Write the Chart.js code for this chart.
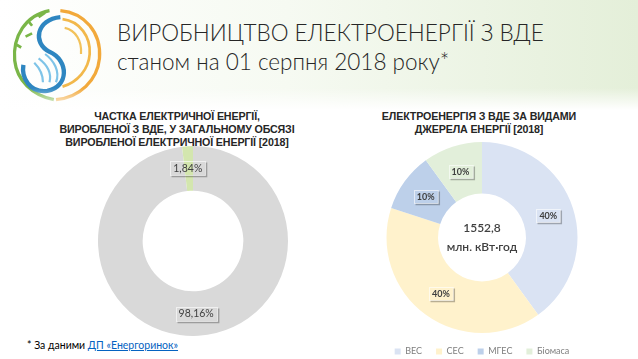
<!DOCTYPE html>
<html>
<head>
<meta charset="utf-8">
<script src="https://cdn.jsdelivr.net/npm/chart.js@4"></script>
<style>
  html, body { margin: 0; padding: 0; }
  body {
    width: 638px; height: 359px; position: relative; overflow: hidden;
    background: #fff; font-family: Lato, "Open Sans", sans-serif;
  }
  .header {
    position: absolute; left: 0; top: 0; width: 638px; height: 110px;
    background: linear-gradient(to right, #ffffff 0%, #f6faf2 45%, #e4efd9 100%);
  }
  .header::after {
    content: ''; position: absolute; left: 0; right: 0; bottom: 0; height: 22px;
    background: linear-gradient(to bottom, rgba(255,255,255,0), #fff);
  }
  .logo { position: absolute; left: 6px; top: 4px; }
  .title {
    position: absolute; left: 117px; top: 18px;
    font-size: 22.5px; line-height: 29px; color: #262626; font-weight: 300;
  }
  .ctitle {
    position: absolute; text-align: center; font-family: "Liberation Sans", Arial, sans-serif;
    font-weight: bold; font-size: 10.7px; line-height: 13px; color: #262626; letter-spacing: -0.15px;
  }
  canvas { position: absolute; }
  .note {
    position: absolute; left: 27px; top: 339px; font-size: 10.5px; color: #000;
  }
  .note a { color: #0563c1; text-decoration: underline; }
</style>
</head>
<body>
<div class="header">
  <svg class="logo" width="100" height="100" viewBox="0 0 92 92">
    <path d="M40 6 C 18 10, 6 30, 8 52 C 10 70, 24 84, 44 88" fill="none" stroke="#7ab648" stroke-width="3"/>
    <path d="M30 12 l6 -4 M24 20 l-4 -5 M18 30 l6 -3 M14 40 l-5 -3" stroke="#7ab648" stroke-width="2.5"/>
    <path d="M50 6 C 72 8, 88 26, 86 50 C 84 70, 68 86, 46 88" fill="none" stroke="#f2a93b" stroke-width="3"/>
    <path d="M52 14 C 68 16, 78 30, 77 46 C 76 60, 66 72, 52 76" fill="none" stroke="#f2b84b" stroke-width="2.5"/>
    <path d="M54 22 C 64 24, 70 34, 69 46" fill="none" stroke="#f2c25b" stroke-width="2"/>
    <path d="M50 12 C 28 14, 24 36, 40 44 C 58 52, 58 76, 38 80 C 22 82, 14 68, 16 56" fill="none" stroke="#2e86c1" stroke-width="4"/>
    <path d="M36 46 C 44 52, 50 62, 46 72 M30 50 C 38 56, 42 64, 40 72 M26 54 C 32 60, 34 66, 34 72" fill="none" stroke="#7fc4e8" stroke-width="2"/>
  </svg>
  <div class="title">ВИРОБНИЦТВО ЕЛЕКТРОЕНЕРГІЇ З ВДЕ<br>станом на 01 серпня 2018 року*</div>
</div>

<div class="ctitle" style="left:30px; top:110px; width:294px;">ЧАСТКА ЕЛЕКТРИЧНОЇ ЕНЕРГІЇ,<br>ВИРОБЛЕНОЇ З ВДЕ, У ЗАГАЛЬНОМУ ОБСЯЗІ<br>ВИРОБЛЕНОЇ ЕЛЕКТРИЧНОЇ ЕНЕРГІЇ [2018]</div>
<div class="ctitle" style="left:340px; top:110px; width:278px;">ЕЛЕКТРОЕНЕРГІЯ З ВДЕ ЗА ВИДАМИ<br>ДЖЕРЕЛА ЕНЕРГІЇ [2018]</div>

<canvas id="share" width="190" height="190" style="left:98px; top:146px;"></canvas>
<canvas id="types" width="260" height="224" style="left:352px; top:142px;"></canvas>

<div class="note">* За даними <a>ДП «Енергоринок»</a></div>

<script>
// Частка ВДЕ у загальному обсязі
const shareLabels = ['Інші джерела', 'ВДЕ'];
const shareValues = [98.16, 1.84];
const shareText = ['98,16%', '1,84%'];
const shareColors = ['#d9d9d9', '#d3e6ae'];

// ВДЕ за видами джерела
const typeLabels = ['ВЕС', 'СЕС', 'МГЕС', 'Біомаса'];
const typeValues = [40, 40, 10, 10];
const typeText = ['40%', '40%', '10%', '10%'];
const typeColors = ['#dae3f3', '#fff2cc', '#bdd0ea', '#e2efda'];
const totalText = ['1552,8', 'млн. кВт·год'];

// Підписи у рамках з тінню
const boxLabels = {
  id: 'boxLabels',
  afterDatasetsDraw(chart, args, opts) {
    const ctx = chart.ctx;
    const meta = chart.getDatasetMeta(0);
    ctx.save();
    ctx.font = opts.font;
    ctx.textAlign = 'center';
    ctx.textBaseline = 'middle';
    meta.data.forEach((arc, i) => {
      const p = arc.tooltipPosition();
      const x = p.x + (opts.dx || 0), y = p.y + (opts.dy || 0);
      const t = opts.texts[i];
      const w = ctx.measureText(t).width + 6, h = opts.h;
      const l = Math.round(x - w / 2) + 0.5, tp = Math.round(y - h / 2) + 0.5;
      ctx.strokeStyle = 'rgba(255,255,255,0.6)';
      ctx.lineWidth = 1;
      ctx.strokeRect(l, tp, w, h);
      ctx.strokeStyle = 'rgba(0,0,0,0.28)';
      ctx.lineWidth = 1.5;
      ctx.beginPath();
      ctx.moveTo(l + w + 1, tp + 1);
      ctx.lineTo(l + w + 1, tp + h + 1);
      ctx.lineTo(l + 1, tp + h + 1);
      ctx.stroke();
      ctx.fillStyle = '#404040';
      ctx.fillText(t, x, y + 0.5);
    });
    ctx.restore();
  }
};

const centerText = {
  id: 'centerText',
  afterDraw(chart) {
    if (chart.canvas.id !== 'types') return;
    const ctx = chart.ctx;
    const a = chart.chartArea;
    const cx = (a.left + a.right) / 2, cy = (a.top + a.bottom) / 2;
    ctx.save();
    ctx.fillStyle = '#404040';
    ctx.textAlign = 'center';
    ctx.textBaseline = 'middle';
    ctx.font = '600 12px Lato, sans-serif';
    ctx.fillText(totalText[0], cx, cy - 9);
    ctx.fillText(totalText[1], cx, cy + 10);
    ctx.restore();
  }
};

new Chart(document.getElementById('share'), {
  type: 'doughnut',
  data: {
    labels: shareLabels,
    datasets: [{ data: shareValues, backgroundColor: shareColors, borderWidth: 0 }]
  },
  options: {
    responsive: false,
    animation: false,
    cutout: '53%',
    layout: { padding: 0 },
    plugins: {
      legend: { display: false },
      tooltip: { enabled: false },
      boxLabels: { texts: shareText, font: '10.5px Lato, sans-serif', h: 14, dx: -1 }
    }
  },
  plugins: [boxLabels]
});

new Chart(document.getElementById('types'), {
  type: 'doughnut',
  data: {
    labels: typeLabels,
    datasets: [{ data: typeValues, backgroundColor: typeColors, borderColor: '#ffffff', borderWidth: 0 }]
  },
  options: {
    responsive: false,
    animation: false,
    cutout: '46%',
    layout: { padding: 0 },
    plugins: {
      legend: {
        position: 'bottom',
        labels: {
          boxWidth: 6, boxHeight: 6, padding: 14,
          color: '#7f7f7f', font: { family: 'Lato', size: 9 }
        }
      },
      tooltip: { enabled: false },
      boxLabels: { texts: typeText, font: 'bold 9px Lato, sans-serif', h: 13 }
    }
  },
  plugins: [boxLabels, centerText]
});
</script>
</body>
</html>
